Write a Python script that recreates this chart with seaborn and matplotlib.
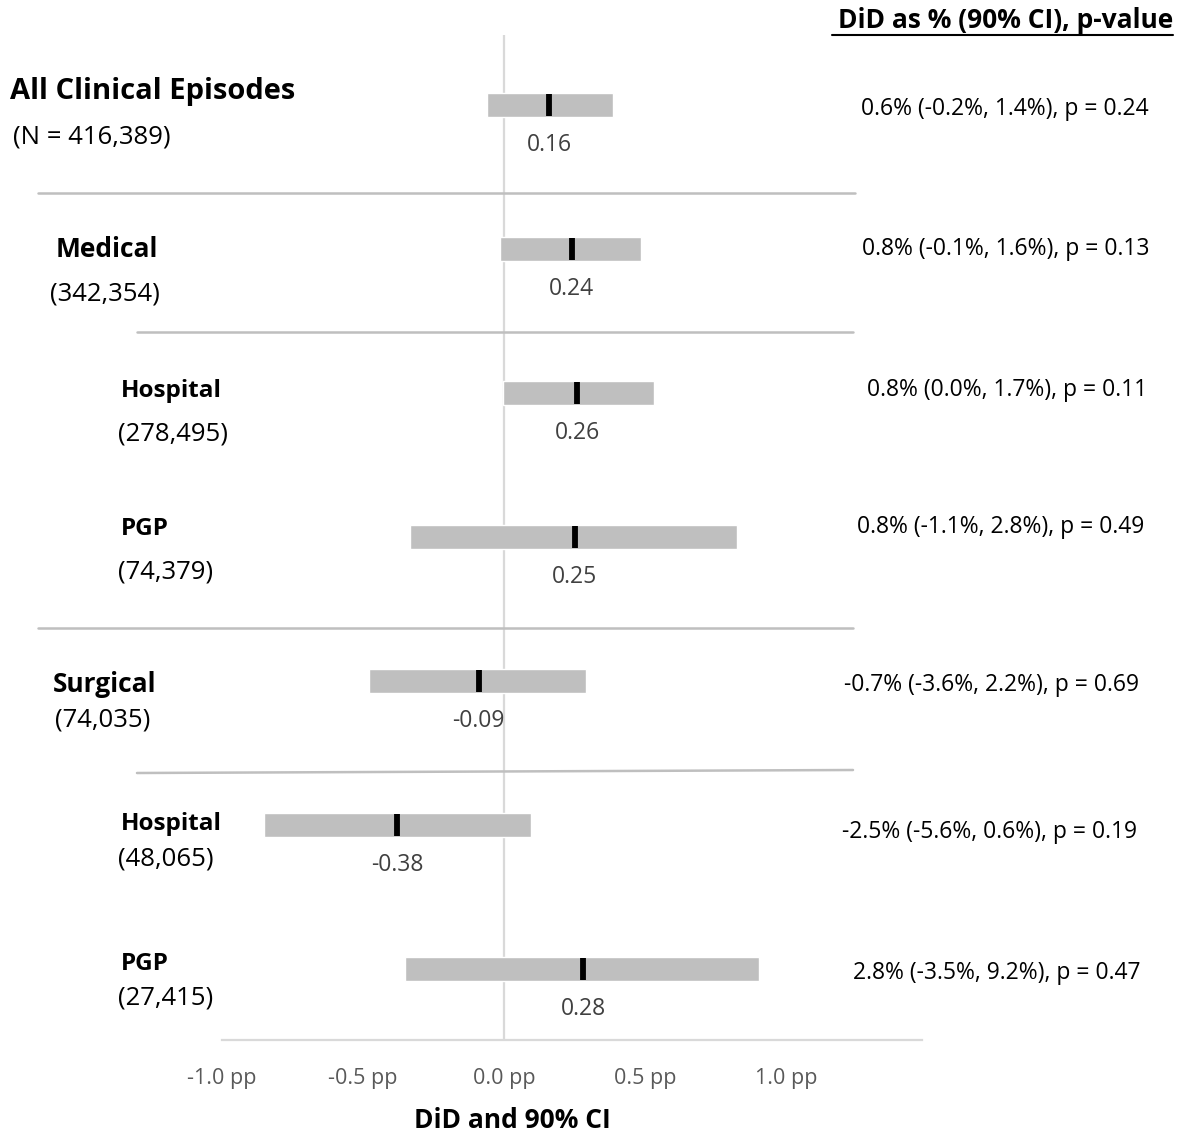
import numpy as np
import pandas as pd
import matplotlib
matplotlib.use('Agg')
import matplotlib.pyplot as plt
from matplotlib.lines import Line2D
import seaborn as sns

# 데이터 (pp 단위 DiD, 90% CI)
groups = ['All Clinical Episodes', 'Medical', 'Hospital', 'PGP', 'Surgical', 'Hospital', 'PGP']
counts = ['(N = 416,389)', '(342,354)', '(278,495)', '(74,379)', '(74,035)', '(48,065)', '(27,415)']
did = [0.16, 0.24, 0.26, 0.25, -0.09, -0.38, 0.28]
ci_low = [-0.06, -0.015, -0.005, -0.335, -0.48, -0.85, -0.35]
ci_high = [0.385, 0.485, 0.53, 0.825, 0.29, 0.095, 0.905]
pct_text = ['0.6% (-0.2%, 1.4%), p = 0.24',
            '0.8% (-0.1%, 1.6%), p = 0.13',
            '0.8% (0.0%, 1.7%), p = 0.11',
            '0.8% (-1.1%, 2.8%), p = 0.49',
            '-0.7% (-3.6%, 2.2%), p = 0.69',
            '-2.5% (-5.6%, 0.6%), p = 0.19',
            '2.8% (-3.5%, 9.2%), p = 0.47']
xticks = [-1.0, -0.5, 0.0, 0.5, 1.0]

df = pd.DataFrame({'group': groups, 'n': counts, 'did': did,
                   'lo': ci_low, 'hi': ci_high, 'txt': pct_text})
df['row'] = np.arange(len(df))

sns.set_theme(style='white')
plt.rcParams['font.family'] = ['Open Sans', 'DejaVu Sans']
plt.rcParams['text.color'] = 'black'

W, H = 1180, 1135
fig = plt.figure(figsize=(W / 100, H / 100), dpi=100)

def fx(px):
    return px / W

def fy(py):
    return 1 - py / H

# 축 위치 (픽셀 기준)
ax = fig.add_axes([fx(222), fy(1040), fx(700), (1040 - 35) / H])
ax.set_xlim(-1.0, 1.482)
ax.set_ylim(6.493, -0.486)

# CI 막대
ax.barh(df['row'], df['hi'] - df['lo'], left=df['lo'], height=0.16,
        color='#bfbfbf', zorder=2)
# 점추정
sns.scatterplot(data=df, x='did', y='row', marker='|', s=240, linewidth=4.2,
                color='black', ax=ax, zorder=3, legend=False)
for _, r in df.iterrows():
    ax.text(r['did'], r['row'] + 0.28, f"{r['did']:.2f}", ha='center', va='center',
            fontsize=16.5, color='#404040')

ax.axvline(0, color='#d9d9d9', lw=1.6, zorder=1)
for s in ['top', 'right', 'left']:
    ax.spines[s].set_visible(False)
ax.spines['bottom'].set_color('#d9d9d9')
ax.spines['bottom'].set_linewidth(1.6)
ax.set_yticks([])
ax.set_xticks(xticks)
ax.set_xticklabels([f'{t:.1f} pp' for t in xticks], fontsize=15.5, color='#595959')
ax.tick_params(axis='x', length=0, pad=20)
ax.set_xlabel('')
ax.set_ylabel('')

# x축 제목
fig.text(fx(512), fy(1120), 'DiD and 90% CI', fontsize=19, fontweight='bold',
         va='center', ha='center', color='black')

# 왼쪽 그룹 라벨
name_x = [10, 56, 121, 121, 53, 121, 121]
name_y = [92, 249, 391, 529, 685, 824, 964]
n_x = [13, 50, 118, 118, 55, 118, 118]
n_y = [137, 294, 434, 572, 720, 859, 998]
name_size = [21, 19, 17.5, 17.5, 19, 17.5, 17.5]
for i in range(len(df)):
    fig.text(fx(name_x[i]), fy(name_y[i]), df['group'][i], fontsize=name_size[i],
             fontweight='bold', va='center', ha='left', color='black')
    fig.text(fx(n_x[i]), fy(n_y[i]), df['n'][i], fontsize=18.5, va='center', ha='left',
             color='black')

# 오른쪽 % 텍스트
txt_x = [1005, 1006, 1007, 1001, 991, 990, 997]
txt_y = [109, 249, 390, 527, 685, 832, 973]
for i in range(len(df)):
    fig.text(fx(txt_x[i]), fy(txt_y[i]), df['txt'][i], fontsize=16.5,
             va='center', ha='center', color='black')

fig.text(fx(1173), fy(20), 'DiD as % (90% CI), p-value', fontsize=19,
         fontweight='bold', va='center', ha='right', color='black')
fig.add_artist(Line2D([fx(832), fx(1173)], [fy(35), fy(35)], color='black', lw=1.5))

# 구분선
seps = [(38, 855, 193, 193), (137, 853, 332, 332), (38, 853, 628, 628), (137, 853, 773, 770)]
for x0, x1, y0, y1 in seps:
    fig.add_artist(Line2D([fx(x0), fx(x1)], [fy(y0), fy(y1)], color='#bfbfbf', lw=1.8))

fig.savefig('out.png', dpi=100)
